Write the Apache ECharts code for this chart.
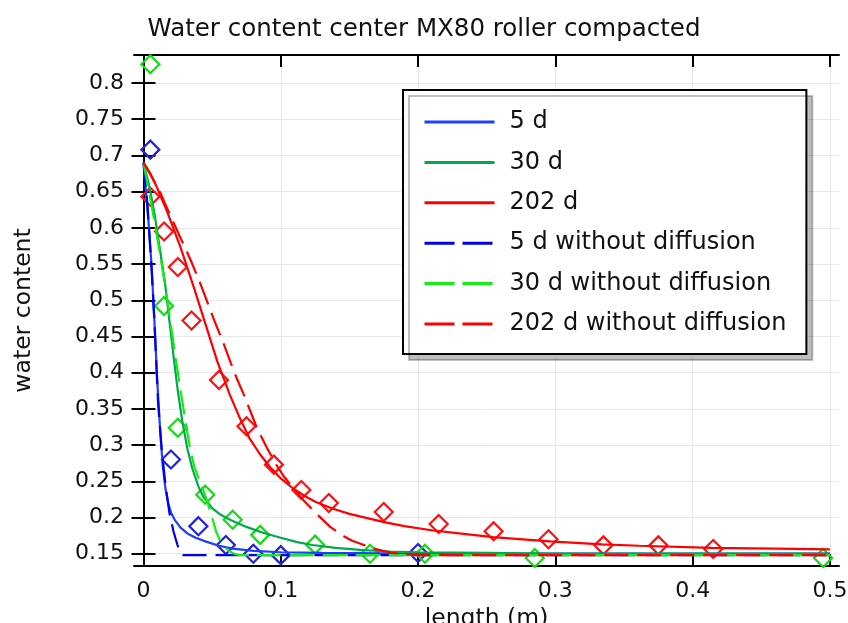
<!DOCTYPE html>
<html>
<head>
<meta charset="utf-8">
<script src="https://cdn.jsdelivr.net/npm/echarts@6/dist/echarts.min.js"></script>
<style>
  html, body { margin: 0; padding: 0; background: #fff; }
  #chart { width: 848px; height: 623px; }
</style>
</head>
<body>
<div id="chart"></div>
<script>
// Axis ticks
const xTicks = [0, 0.1, 0.2, 0.3, 0.4, 0.5];
const yTicks = [0.15, 0.2, 0.25, 0.3, 0.35, 0.4, 0.45, 0.5, 0.55, 0.6, 0.65, 0.7, 0.75, 0.8];

// Simulated profiles: [length (m), water content]
const sim5d = [[0,0.69],[0.002,0.645],[0.004,0.6],[0.006,0.545],[0.008,0.47],[0.010,0.39],[0.012,0.325],[0.014,0.272],[0.016,0.24],[0.018,0.22],[0.020,0.207],[0.023,0.196],[0.027,0.186],[0.032,0.178],[0.038,0.172],[0.045,0.167],[0.055,0.161],[0.065,0.157],[0.08,0.154],[0.1,0.152],[0.13,0.151],[0.2,0.15],[0.5,0.15]];
const sim30d = [[0,0.69],[0.004,0.66],[0.008,0.62],[0.012,0.57],[0.0154,0.528],[0.019,0.47],[0.0222,0.418],[0.025,0.375],[0.0283,0.333],[0.032,0.295],[0.0355,0.268],[0.04,0.243],[0.0435,0.229],[0.05,0.213],[0.056,0.204],[0.063,0.197],[0.075,0.187],[0.087,0.179],[0.1,0.172],[0.112,0.166],[0.123,0.162],[0.14,0.158],[0.16,0.155],[0.18,0.153],[0.2,0.152],[0.25,0.151],[0.3,0.15],[0.5,0.15]];
const sim202d = [[0,0.69],[0.005,0.675],[0.01,0.655],[0.0173,0.622],[0.027,0.573],[0.0368,0.517],[0.045,0.468],[0.0537,0.416],[0.063,0.369],[0.07,0.338],[0.077,0.31],[0.085,0.287],[0.092,0.27],[0.1,0.254],[0.109,0.24],[0.118,0.229],[0.126,0.221],[0.138,0.212],[0.15,0.205],[0.1745,0.194],[0.19,0.188],[0.211,0.182],[0.23,0.178],[0.2546,0.173],[0.296,0.167],[0.334,0.163],[0.361,0.161],[0.414,0.158],[0.46,0.157],[0.5,0.156]];
const noDiff5d = [[0,0.69],[0.003,0.63],[0.006,0.54],[0.008,0.47],[0.0106,0.36],[0.013,0.3],[0.016,0.245],[0.019,0.205],[0.022,0.18],[0.0246,0.163],[0.026,0.155],[0.0275,0.149],[0.029,0.148],[0.5,0.148]];
const noDiff30d = [[0,0.69],[0.006,0.63],[0.012,0.565],[0.017,0.505],[0.0234,0.42],[0.027,0.376],[0.0307,0.331],[0.034,0.295],[0.037,0.27],[0.041,0.25],[0.046,0.225],[0.05,0.2],[0.053,0.18],[0.0557,0.169],[0.059,0.16],[0.062,0.154],[0.066,0.15],[0.07,0.148],[0.5,0.148]];
const noDiff202d = [[0,0.69],[0.0113,0.653],[0.02,0.615],[0.027,0.586],[0.034,0.557],[0.041,0.525],[0.047,0.495],[0.052,0.47],[0.058,0.442],[0.0635,0.414],[0.068,0.392],[0.073,0.37],[0.078,0.346],[0.083,0.322],[0.09,0.296],[0.096,0.275],[0.1018,0.258],[0.108,0.243],[0.116,0.225],[0.122,0.213],[0.128,0.2015],[0.136,0.187],[0.145,0.175],[0.152,0.168],[0.1576,0.164],[0.165,0.159],[0.17,0.156],[0.179,0.152],[0.19,0.149],[0.2,0.148],[0.5,0.148]];

// Measured water content
const meas5dX = [0.005, 0.02, 0.04, 0.06, 0.08, 0.1, 0.2];
const meas5dY = [0.708, 0.28, 0.188, 0.162, 0.15, 0.148, 0.151];
const meas30dX = [0.005, 0.015, 0.025, 0.045, 0.065, 0.085, 0.125, 0.165, 0.205, 0.285, 0.495];
const meas30dY = [0.826, 0.492, 0.324, 0.2315, 0.197, 0.176, 0.1625, 0.15, 0.15, 0.144, 0.144];
const meas202dX = [0.005, 0.015, 0.025, 0.035, 0.055, 0.075, 0.095, 0.115, 0.135, 0.175, 0.215, 0.255, 0.295, 0.335, 0.375, 0.415];
const meas202dY = [0.643, 0.595, 0.546, 0.472, 0.39, 0.326, 0.273, 0.238, 0.22, 0.2076, 0.191, 0.181, 0.17, 0.1615, 0.1615, 0.1565];

const FONT = 'DejaVu Sans';
const zip = (xs, ys) => xs.map((x, i) => [x, ys[i]]);
const fmt = v => String(+(+v).toFixed(2));

function lineSeries(name, data, color, dashed) {
  return {
    name, type: 'line', data, symbol: 'none', smooth: false,
    lineStyle: { color, width: 2.2, type: dashed ? [24, 9] : 'solid' },
    itemStyle: { color }, z: 3
  };
}
function measSeries(name, data, color) {
  return {
    name, type: 'scatter', data, symbol: 'diamond', symbolSize: [18, 18],
    itemStyle: { color: 'rgba(0,0,0,0)', borderColor: color, borderWidth: 2.2, opacity: 1 }, z: 2
  };
}

const axisLine = { show: true, lineStyle: { color: '#000', width: 2 } };
const tick = { show: true, inside: true, length: 12, lineStyle: { color: '#000', width: 2 } };
const chart = echarts.init(document.getElementById('chart'));
chart.setOption({
  backgroundColor: '#fff',
  animation: false,
  textStyle: { fontFamily: FONT },
  title: {
    text: 'Water content center MX80 roller compacted',
    left: 'center', top: 12,
    textStyle: { fontFamily: FONT, fontSize: 24.5, fontWeight: 'normal', color: '#111' }
  },
  grid: { left: 134, right: 9, top: 55, bottom: 57, containLabel: false, outerBoundsMode: 'none' },
  xAxis: [{
    type: 'value', min: -0.0069, max: 0.5066, position: 'bottom',
    name: 'length (m)', nameLocation: 'middle', nameGap: 35,
    nameTextStyle: { fontFamily: FONT, fontSize: 23.5, color: '#111' },
    axisLine,
    axisTick: Object.assign({ customValues: xTicks }, tick),
    axisLabel: { customValues: xTicks, formatter: fmt, fontFamily: FONT, fontSize: 22, color: '#111', margin: 14 },
    splitLine: { show: true, lineStyle: { color: '#e8e8e8', width: 1 } }
  }, {
    type: 'value', min: -0.0069, max: 0.5066, position: 'top',
    axisLine,
    axisTick: Object.assign({ customValues: xTicks }, tick),
    axisLabel: { show: false },
    splitLine: { show: false }
  }],
  yAxis: [{
    type: 'value', min: 0.133, max: 0.8387, position: 'left',
    name: 'water content', nameLocation: 'middle', nameGap: 98, nameRotate: 90,
    nameTextStyle: { fontFamily: FONT, fontSize: 23.5, color: '#111' },
    axisLine,
    axisTick: Object.assign({ customValues: yTicks }, tick),
    axisLabel: { customValues: yTicks, formatter: fmt, fontFamily: FONT, fontSize: 22, color: '#111', margin: 10 },
    splitLine: { show: true, lineStyle: { color: '#e8e8e8', width: 1 } }
  }, {
    type: 'value', min: 0.133, max: 0.8387, position: 'right',
    axisLine,
    axisTick: Object.assign({ customValues: yTicks }, tick),
    axisLabel: { show: false },
    splitLine: { show: false }
  }],
  legend: {
    orient: 'vertical', left: 403, top: 90,
    itemWidth: 70, itemHeight: 20, itemGap: 16.4,
    padding: [20, 20, 18, 20],
    backgroundColor: '#fff', borderColor: '#000', borderWidth: 2, borderRadius: 0,
    shadowColor: 'rgba(0,0,0,0.25)', shadowOffsetX: 6, shadowOffsetY: 6, shadowBlur: 0,
    itemStyle: { opacity: 0 },
    textStyle: { fontFamily: FONT, fontSize: 24, color: '#111', padding: [0, 0, 0, 10] },
    data: [
      { name: '5 d', lineStyle: { width: 3 } },
      { name: '30 d', lineStyle: { width: 3 } },
      { name: '202 d', lineStyle: { width: 3 } },
      { name: '5 d without diffusion', lineStyle: { width: 3, type: [30, 8] } },
      { name: '30 d without diffusion', lineStyle: { width: 3, type: [30, 8] } },
      { name: '202 d without diffusion', lineStyle: { width: 3, type: [30, 8] } }
    ]
  },
  series: [
    measSeries('measured 5 d', zip(meas5dX, meas5dY), '#2222dd'),
    measSeries('measured 30 d', zip(meas30dX, meas30dY), '#11dd11'),
    measSeries('measured 202 d', zip(meas202dX, meas202dY), '#ff1010'),
    lineSeries('5 d', sim5d, '#1f3fff', false),
    lineSeries('30 d', sim30d, '#00a84f', false),
    lineSeries('202 d', sim202d, '#ff0000', false),
    lineSeries('5 d without diffusion', noDiff5d, '#0000ee', true),
    lineSeries('30 d without diffusion', noDiff30d, '#11ee11', true),
    lineSeries('202 d without diffusion', noDiff202d, '#ff0000', true)
  ]
});
</script>
</body>
</html>
